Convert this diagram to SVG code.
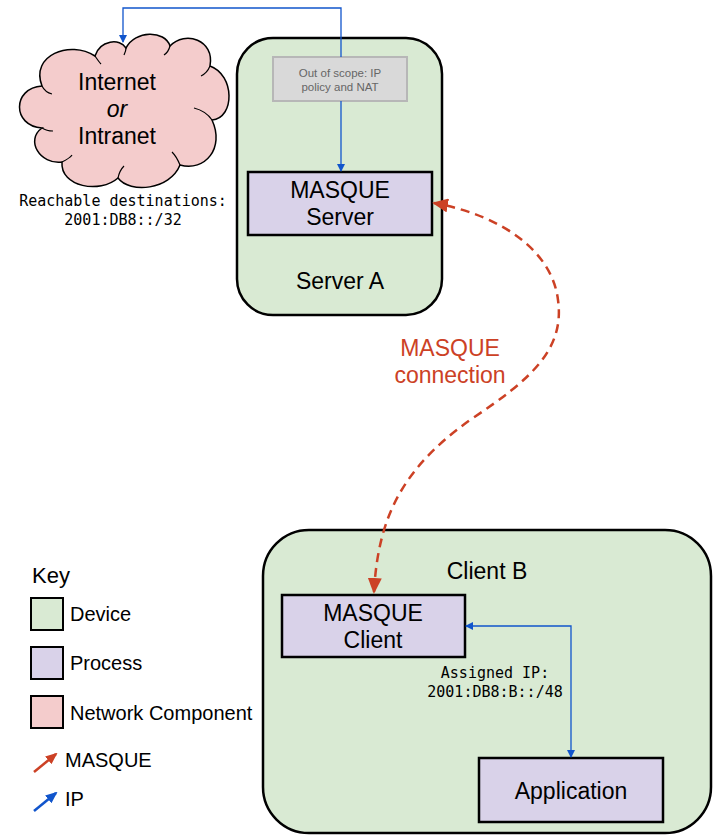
<svg xmlns="http://www.w3.org/2000/svg" width="713" height="835" viewBox="0 0 713 835">
<defs>
<style>
.dev{fill:#d9ead3;stroke:#000;stroke-width:2.5}
.proc{fill:#d9d2e9;stroke:#000;stroke-width:2.5}
.net{fill:#f4cccc;stroke:#000;stroke-width:1.5}
.t{font-family:"Liberation Sans",Arial,sans-serif;fill:#000}
.m{font-family:"DejaVu Sans Mono","Liberation Mono",monospace;font-size:15px;fill:#000}
.ip{fill:none;stroke:#1155cc;stroke-width:1.3}
.mq{fill:none;stroke:#cc4125;stroke-width:2.5;stroke-dasharray:9,6}
</style>
<marker id="ab" markerWidth="8" markerHeight="8" refX="7" refY="4" orient="auto-start-reverse" markerUnits="userSpaceOnUse"><path d="M0,0 L8,4 L0,8 Z" fill="#1155cc"/></marker>
<marker id="ar" markerWidth="16" markerHeight="14" refX="14" refY="7" orient="auto-start-reverse" markerUnits="userSpaceOnUse"><path d="M0,0 L16,7 L0,14 Z" fill="#cc4125"/></marker>
<marker id="ar2" markerWidth="12" markerHeight="10" refX="10" refY="5" orient="auto" markerUnits="userSpaceOnUse"><path d="M0,0 L12,5 L0,10 Z" fill="#cc4125"/></marker>
<marker id="ab2" markerWidth="12" markerHeight="10" refX="10" refY="5" orient="auto" markerUnits="userSpaceOnUse"><path d="M0,0 L12,5 L0,10 Z" fill="#1155cc"/></marker>
</defs>

<g id="cloud">
<path class="net" d="M42,128 C12,126 12,88 42,86 C30,55 70,40 95,56 C100,40 120,38 126,48 C135,30 165,30 170,46 C185,30 215,40 210,66 C235,75 235,118 212,120 C225,148 205,172 180,165 C170,190 130,194 118,178 C100,194 60,187 62,162 C40,165 25,140 42,128 Z"/>
<path fill="none" stroke="#000" stroke-width="1.2" d="M42,86 C44,90 48,93 52,94 M95,56 C97,59 99,62 101,64 M126,48 C126,51 125,53 124,55 M170,46 C169,50 167,53 164,55 M210,66 C208,71 205,74 201,76 M212,120 C208,114 202,110 194,108 M180,165 C178,160 176,156 172,152 M118,178 C119,173 121,169 124,166 M62,162 C66,160 70,158 72,155 M42,128 C45,130 49,131 53,131"/>
<text class="t" x="117" y="90" font-size="23" text-anchor="middle">Internet</text>
<text class="t" x="117" y="117" font-size="23" text-anchor="middle" font-style="italic">or</text>
<text class="t" x="117" y="144" font-size="23" text-anchor="middle">Intranet</text>
<text class="m" x="123" y="206" text-anchor="middle">Reachable destinations:</text>
<text class="m" x="123" y="225" text-anchor="middle">2001:DB8::/32</text>
</g>

<g id="serverA">
<rect class="dev" x="237" y="38" width="205" height="277" rx="36"/>
<text class="t" x="340" y="289" font-size="23" text-anchor="middle">Server A</text>
</g>
<g id="scope">
<rect x="273" y="57" width="134" height="44" fill="#d9d9d9" stroke="#b7b7b7" stroke-width="2"/>
<text x="340" y="77" font-family="Liberation Sans,Arial,sans-serif" font-size="11.5" fill="#666" text-anchor="middle">Out of scope: IP</text>
<text x="340" y="91" font-family="Liberation Sans,Arial,sans-serif" font-size="11.5" fill="#666" text-anchor="middle">policy and NAT</text>
</g>
<g id="masqueServer">
<rect class="proc" x="248" y="172" width="184" height="63"/>
<text class="t" x="340" y="198" font-size="23" text-anchor="middle">MASQUE</text>
<text class="t" x="340" y="225" font-size="23" text-anchor="middle">Server</text>
</g>

<g id="clientB">
<rect class="dev" x="263" y="530" width="448" height="303" rx="46"/>
<text class="t" x="487" y="579" font-size="23" text-anchor="middle">Client B</text>
</g>
<g id="masqueClient">
<rect class="proc" x="282" y="595" width="183" height="62"/>
<text class="t" x="373" y="621" font-size="23" text-anchor="middle">MASQUE</text>
<text class="t" x="373" y="648" font-size="23" text-anchor="middle">Client</text>
</g>
<g id="application">
<rect class="proc" x="479" y="758" width="184" height="64"/>
<text class="t" x="571" y="799" font-size="23" text-anchor="middle">Application</text>
</g>
<text class="m" x="495" y="678" text-anchor="middle">Assigned IP:</text>
<text class="m" x="495" y="697" text-anchor="middle">2001:DB8:B::/48</text>

<g id="connectors">
<path class="ip" d="M341,57 V8 H123 V42" marker-end="url(#ab)"/>
<path class="ip" d="M341,101 V171" marker-end="url(#ab)"/>
<path class="ip" d="M571,757 V626 H466" marker-start="url(#ab)" marker-end="url(#ab)"/>
<path class="mq" d="M374,592 C378,520 400,470 470,420 C530,380 565,350 558,300 C552,250 500,215 434,203" marker-start="url(#ar)" marker-end="url(#ar)"/>
<text x="450" y="356" font-family="Liberation Sans,Arial,sans-serif" font-size="23" fill="#cc4125" text-anchor="middle">MASQUE</text>
<text x="450" y="383" font-family="Liberation Sans,Arial,sans-serif" font-size="23" fill="#cc4125" text-anchor="middle">connection</text>
</g>

<g id="key">
<text class="t" x="32" y="583" font-size="22">Key</text>
<rect class="dev" x="31" y="598" width="32" height="32" style="stroke-width:2"/>
<text class="t" x="70" y="621" font-size="20">Device</text>
<rect class="proc" x="31" y="647" width="32" height="32" style="stroke-width:2"/>
<text class="t" x="70" y="670" font-size="20">Process</text>
<rect class="net" x="31" y="696" width="32" height="32" style="stroke-width:2"/>
<text class="t" x="70" y="720" font-size="20">Network Component</text>
<path d="M34,772 L56,754" stroke="#cc4125" stroke-width="2.5" marker-end="url(#ar2)"/>
<text class="t" x="65" y="767" font-size="20">MASQUE</text>
<path d="M34,811 L56,793" stroke="#1155cc" stroke-width="2.5" marker-end="url(#ab2)"/>
<text class="t" x="65" y="806" font-size="20">IP</text>
</g>
</svg>
